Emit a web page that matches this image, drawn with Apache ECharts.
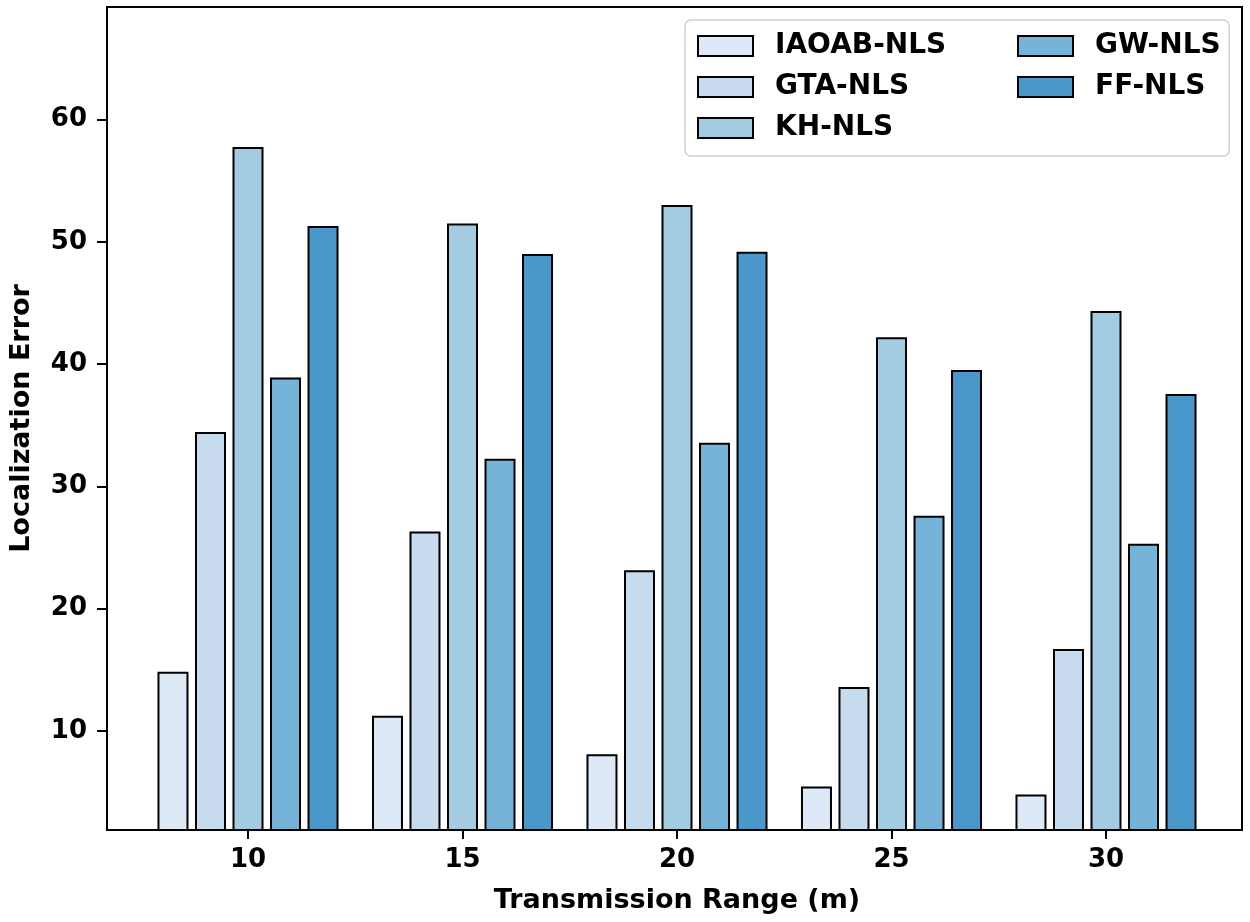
<!DOCTYPE html>
<html>
<head>
<meta charset="utf-8">
<script src="https://cdn.jsdelivr.net/npm/echarts@6/dist/echarts.min.js"></script>
<style>
html,body{margin:0;padding:0;background:#fff;}
#chart{width:1250px;height:922px;}
</style>
</head>
<body>
<div id="chart"></div>
<script>
const categories = ['10', '15', '20', '25', '30'];
const seriesNames = ['IAOAB-NLS', 'GTA-NLS', 'KH-NLS', 'GW-NLS', 'FF-NLS'];
const iaoab = [14.85, 11.25, 8.1, 5.45, 4.8];
const gta = [34.45, 26.3, 23.15, 13.6, 16.7];
const kh = [57.75, 51.5, 53.0, 42.2, 44.35];
const gw = [38.9, 32.25, 33.57, 27.6, 25.3];
const ff = [51.3, 49.0, 49.18, 39.52, 37.55];
const yTicks = [10, 20, 30, 40, 50, 60];
const colors = ['#dde9f6', '#c7dbef', '#a3cce3', '#75b3d8', '#4a98c9'];
const values = [iaoab, gta, kh, gw, ff];

const FONT = 'DejaVu Sans';
const chart = echarts.init(document.getElementById('chart'), null, {renderer: 'canvas'});

const series = seriesNames.map((name, i) => ({
  name: name,
  type: 'bar',
  xAxisIndex: 0,
  yAxisIndex: 0,
  data: values[i],
  barWidth: 31,
  barGap: '21%',
  itemStyle: {color: colors[i], borderColor: '#000', borderWidth: 2},
  emphasis: {disabled: true},
  z: 2
}));

const legendText = {fontFamily: FONT, fontWeight: 'bold', fontSize: 28, color: '#000', padding: [0, 0, 0, 17]};

const option = {
  backgroundColor: '#fff',
  animation: false,
  grid: [
    {left: 140.75, right: 36.75, top: 7, bottom: 92, show: false},
    {left: 107, right: 8, top: 7, bottom: 92, show: true, borderColor: '#000', borderWidth: 2, backgroundColor: 'transparent', z: 3}
  ],
  legend: [
    {
      data: seriesNames.slice(0, 3),
      orient: 'vertical',
      left: 685,
      top: 20,
      icon: 'rect',
      itemWidth: 55,
      itemHeight: 20,
      itemGap: 13,
      padding: [12, 283, 14, 12],
      backgroundColor: '#fff',
      borderColor: '#d0d0d0',
      borderWidth: 1.5,
      borderRadius: 6,
      textStyle: legendText,
      z: 5
    },
    {
      data: seriesNames.slice(3),
      orient: 'vertical',
      left: 1005,
      top: 20,
      icon: 'rect',
      itemWidth: 55,
      itemHeight: 20,
      itemGap: 13,
      padding: [12, 12, 12, 12],
      textStyle: legendText,
      z: 6
    }
  ],
  xAxis: [
    {
      type: 'category',
      gridIndex: 0,
      data: categories,
      axisLine: {show: false},
      axisTick: {show: true, alignWithLabel: true, length: 9, lineStyle: {color: '#000', width: 2}},
      axisLabel: {fontFamily: FONT, fontWeight: 'bold', fontSize: 26, color: '#000', margin: 17},
      splitLine: {show: false},
      name: 'Transmission Range (m)',
      nameLocation: 'middle',
      nameGap: 57,
      nameTextStyle: {fontFamily: FONT, fontWeight: 'bold', fontSize: 27, color: '#000'}
    },
    {type: 'value', gridIndex: 1, show: false, min: 0, max: 1}
  ],
  yAxis: [
    {
      type: 'value',
      gridIndex: 0,
      min: 1.9,
      max: 69.2,
      offset: 33.75,
      axisLine: {show: false},
      axisTick: {show: true, length: 10, customValues: yTicks, lineStyle: {color: '#000', width: 2}},
      axisLabel: {fontFamily: FONT, fontWeight: 'bold', fontSize: 26, color: '#000', margin: 20, customValues: yTicks},
      splitLine: {show: false},
      name: 'Localization Error',
      nameLocation: 'middle',
      nameGap: 72,
      nameTextStyle: {fontFamily: FONT, fontWeight: 'bold', fontSize: 27, color: '#000'}
    },
    {type: 'value', gridIndex: 1, show: false, min: 0, max: 1}
  ],
  series: series
};
chart.setOption(option);
</script>
</body>
</html>
